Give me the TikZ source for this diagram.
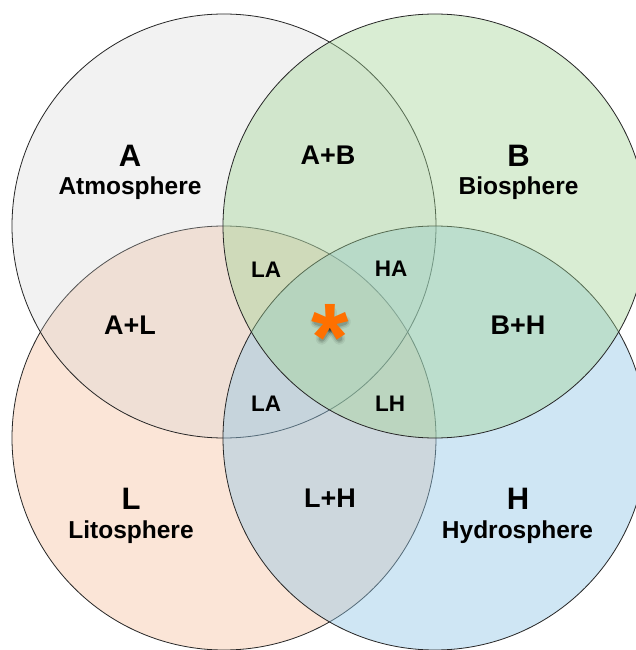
\documentclass[tikz,border=0pt]{standalone}
\usepackage{fontspec}
\setmainfont{Liberation Sans}
\definecolor{cA}{RGB}{208,208,208}
\definecolor{cL}{RGB}{245,190,155}
\definecolor{cH}{RGB}{146,198,230}
\definecolor{cB}{RGB}{160,212,147}
\definecolor{starcol}{RGB}{255,112,0}
\begin{document}
\begin{tikzpicture}[x=1pt,y=-1pt,
  venn/.style={circle, draw=black!85, line width=0.8pt, minimum size=424pt, inner sep=0pt, outer sep=0pt},
  vbig/.style={anchor=base, font=\bfseries\fontsize{31}{31}\selectfont, inner sep=0pt},
  vname/.style={anchor=base, font=\bfseries\fontsize{24.5}{24.5}\selectfont, inner sep=0pt},
  vpair/.style={anchor=base, font=\bfseries\fontsize{27}{27}\selectfont, inner sep=0pt},
  vtri/.style={anchor=base, font=\bfseries\fontsize{22.5}{22.5}\selectfont, inner sep=0pt},
  vstar/.style={anchor=base, font=\bfseries\fontsize{96}{96}\selectfont, inner sep=0pt, text=starcol},
  shadowarm/.style={line cap=round, draw=black}]
\useasboundingbox (0,0) rectangle (636,650);
\clip (0,0) rectangle (636,650);
\fill[white] (0,0) rectangle (636,650);
% circles (order L, A, H, B)
\node[venn, fill=cL, fill opacity=0.4] (L) at (224,438) {};
\node[venn, fill=cA, fill opacity=0.27] (A) at (224,226) {};
\node[venn, fill=cH, fill opacity=0.43] (H) at (435,438) {};
\node[venn, fill=cB, fill opacity=0.4] (B) at (435,226) {};
% labels
\node[vbig] (tA) at (130,166) {A};
\node[vname] (nA) at (130,194) {Atmosphere};
\node[vbig] (tB) at (518.5,166) {B};
\node[vname] (nB) at (518.5,194) {Biosphere};
\node[vbig] (tL) at (131,509) {L};
\node[vname] (nL) at (131,538) {Litosphere};
\node[vbig] (tH) at (518,509) {H};
\node[vname] (nH) at (517.5,538) {Hydrosphere};
\node[vpair] (AB) at (328,164) {A+B};
\node[vpair] (AL) at (130,334) {A+L};
\node[vpair] (BH) at (518,334) {B+H};
\node[vpair] (LH2) at (330,507) {L+H};
\node[vtri] (LA1) at (266,277) {LA};
\node[vtri] (HA) at (391,276) {HA};
\node[vtri] (LA2) at (266,411) {LA};
\node[vtri] (LH) at (390,411) {LH};
% soft shadow of the asterisk
\coordinate (sc) at (330.5,326.5);
\foreach \w/\op in {12/0.06, 9/0.09, 6/0.14}{
  \foreach \ang/\len in {270/14, 342/15, 54/15, 126/15, 198/15}{
    \draw[shadowarm, line width=\w pt, draw opacity=\op] (sc) -- ++(\ang:\len);
  }
}
% asterisk
\node[vstar] (st) at (330,370) {*};
\end{tikzpicture}
\end{document}
